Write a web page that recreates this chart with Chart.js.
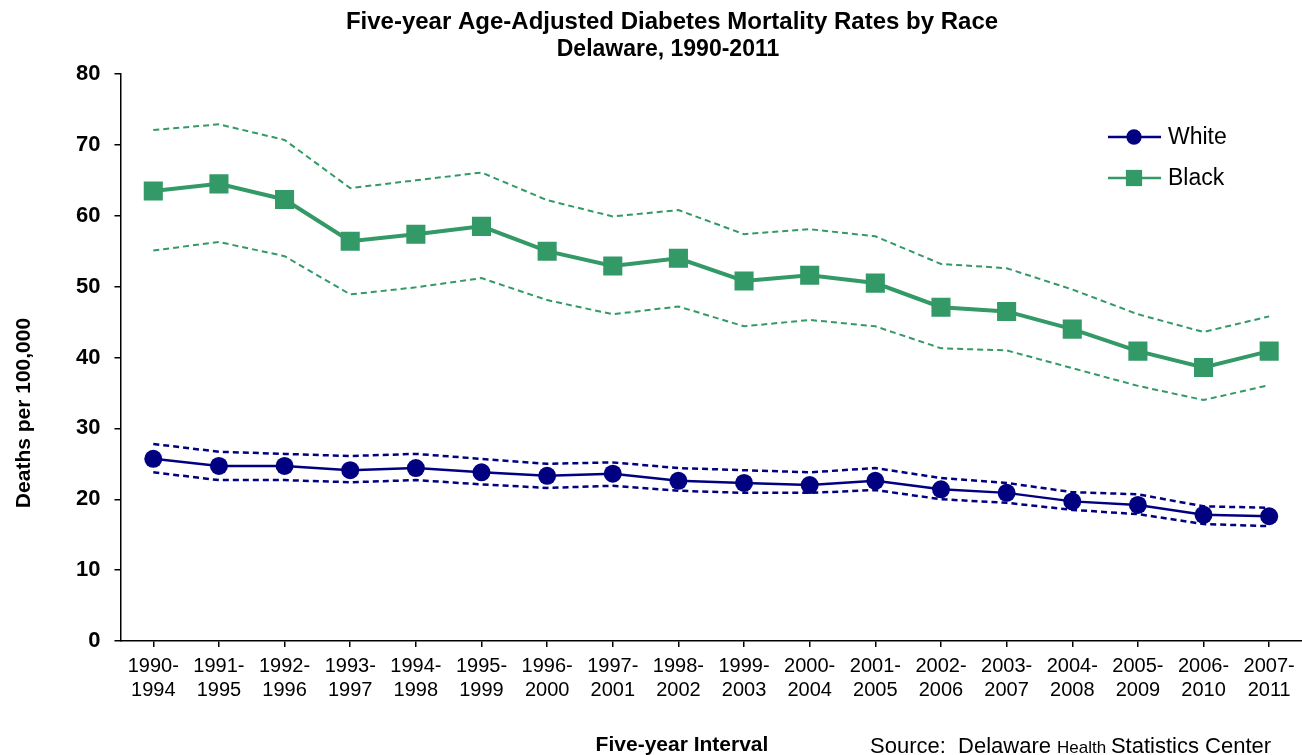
<!DOCTYPE html>
<html>
<head>
<meta charset="utf-8">
<script src="https://cdn.jsdelivr.net/npm/chart.js@4/dist/chart.umd.min.js"></script>
<style>
  html, body { margin: 0; padding: 0; background: #fff; }
  #wrap { width: 1302px; height: 755px; }
</style>
</head>
<body>
<div id="wrap"><canvas id="chart" width="1302" height="755"></canvas></div>
<script>
const intervals = [
  ["1990-", "1994"], ["1991-", "1995"], ["1992-", "1996"], ["1993-", "1997"],
  ["1994-", "1998"], ["1995-", "1999"], ["1996-", "2000"], ["1997-", "2001"],
  ["1998-", "2002"], ["1999-", "2003"], ["2000-", "2004"], ["2001-", "2005"],
  ["2002-", "2006"], ["2003-", "2007"], ["2004-", "2008"], ["2005-", "2009"],
  ["2006-", "2010"], ["2007-", "2011"]
];

const white = [25.7, 24.7, 24.7, 24.1, 24.4, 23.8, 23.3, 23.6, 22.6, 22.3, 22.0, 22.6, 21.4, 20.9, 19.7, 19.2, 17.8, 17.6];
const whiteUpper = [27.8, 26.7, 26.4, 26.1, 26.4, 25.7, 25.0, 25.2, 24.4, 24.1, 23.8, 24.4, 23.0, 22.3, 21.0, 20.7, 19.0, 18.8];
const whiteLower = [23.8, 22.7, 22.7, 22.4, 22.7, 22.1, 21.6, 21.9, 21.2, 20.9, 20.9, 21.3, 20.0, 19.5, 18.5, 17.9, 16.5, 16.2];

const black = [63.5, 64.5, 62.3, 56.4, 57.4, 58.5, 55.0, 52.9, 54.0, 50.8, 51.6, 50.5, 47.1, 46.5, 44.0, 40.9, 38.6, 40.9];
const blackUpper = [72.1, 72.9, 70.7, 63.9, 65.0, 66.1, 62.2, 59.9, 60.8, 57.4, 58.1, 57.1, 53.2, 52.6, 49.6, 46.1, 43.6, 45.8];
const blackLower = [55.1, 56.3, 54.3, 48.9, 49.9, 51.2, 48.1, 46.1, 47.2, 44.4, 45.3, 44.4, 41.3, 41.0, 38.5, 36.0, 34.0, 36.1];

const yTicks = [0, 10, 20, 30, 40, 50, 60, 70, 80];

const NAVY = "#000080";
const GREEN = "#339966";
const FONT = "'Liberation Sans', Arial, sans-serif";

// titles, legend and source line drawn on top of the chart
const textPlugin = {
  id: "textPlugin",
  afterDraw(chart) {
    const ctx = chart.ctx;
    ctx.save();
    ctx.fillStyle = "#000";
    ctx.textAlign = "center";
    ctx.textBaseline = "alphabetic";
    ctx.font = "bold 24px " + FONT;
    ctx.fillText("Five-year Age-Adjusted Diabetes Mortality Rates by Race", 672, 29);
    ctx.font = "bold 23px " + FONT;
    ctx.fillText("Delaware, 1990-2011", 668, 56);

    ctx.font = "bold 21px " + FONT;
    ctx.fillText("Five-year Interval", 682, 751);

    ctx.save();
    ctx.translate(30, 413);
    ctx.rotate(-Math.PI / 2);
    ctx.fillText("Deaths per 100,000", 0, 0);
    ctx.restore();

    // source line, mixed sizes
    ctx.textAlign = "left";
    let x = 870;
    const parts = [["Source:  Delaware ", "22px"], ["Health ", "17px"], ["Statistics Center", "22px"]];
    parts.forEach(([t, s]) => {
      ctx.font = s + " " + FONT;
      ctx.fillText(t, x, 753);
      x += ctx.measureText(t).width;
    });

    // legend
    const items = [chart.data.datasets[0], chart.data.datasets[3]];
    items.forEach((ds, i) => {
      const y = 137 + i * 41;
      ctx.strokeStyle = ds.borderColor;
      ctx.lineWidth = 2.5;
      ctx.setLineDash([]);
      ctx.beginPath();
      ctx.moveTo(1108, y);
      ctx.lineTo(1161, y);
      ctx.stroke();
      ctx.fillStyle = ds.pointBackgroundColor;
      Chart.helpers.drawPoint(ctx, { pointStyle: ds.pointStyle, radius: ds.pointRadius * 0.85, borderWidth: 0 }, 1134, y);
      ctx.fillStyle = "#000";
      ctx.font = "23px " + FONT;
      ctx.textBaseline = "middle";
      ctx.fillText(ds.label, 1168, y + 1);
    });
    ctx.restore();
  }
};

function band(label, data, color, width, dash) {
  return {
    label: label,
    data: data,
    borderColor: color,
    borderWidth: width,
    borderDash: dash,
    pointRadius: 0,
    pointHoverRadius: 0,
    fill: false,
    tension: 0
  };
}

new Chart(document.getElementById("chart"), {
  type: "line",
  data: {
    labels: intervals,
    datasets: [
      {
        label: "White",
        data: white,
        borderColor: NAVY,
        borderWidth: 2.5,
        pointStyle: "circle",
        pointRadius: 9,
        pointBackgroundColor: NAVY,
        pointBorderWidth: 0,
        tension: 0
      },
      band("White upper", whiteUpper, NAVY, 2.5, [6, 4]),
      band("White lower", whiteLower, NAVY, 2.5, [6, 4]),
      {
        label: "Black",
        data: black,
        borderColor: GREEN,
        borderWidth: 4,
        pointStyle: "rect",
        pointRadius: 13.5,
        pointBackgroundColor: GREEN,
        pointBorderWidth: 0,
        tension: 0
      },
      band("Black upper", blackUpper, GREEN, 2, [6, 4]),
      band("Black lower", blackLower, GREEN, 2, [6, 4])
    ]
  },
  options: {
    responsive: false,
    animation: false,
    events: [],
    layout: { autoPadding: false, padding: { top: 74, left: 62, right: 0, bottom: 46 } },
    plugins: {
      legend: { display: false },
      title: { display: false },
      tooltip: { enabled: false }
    },
    scales: {
      x: {
        offset: true,
        grid: { display: true, drawOnChartArea: false, offset: false, tickLength: 6, color: "#000", lineWidth: 1.5 },
        border: { display: true, color: "#000", width: 1.5 },
        ticks: {
          color: "#000",
          font: { family: FONT, size: 20, lineHeight: 1.2 },
          padding: 7,
          maxRotation: 0,
          autoSkip: false
        }
      },
      y: {
        min: 0,
        max: 80,
        afterBuildTicks(scale) { scale.ticks = yTicks.map(v => ({ value: v })); },
        grid: { display: true, drawOnChartArea: false, tickLength: 6, color: "#000", lineWidth: 1.5 },
        border: { display: true, color: "#000", width: 1.5 },
        ticks: {
          color: "#000",
          font: { family: FONT, size: 22, weight: "bold" },
          padding: 14
        }
      }
    }
  },
  plugins: [textPlugin]
});
</script>
</body>
</html>
